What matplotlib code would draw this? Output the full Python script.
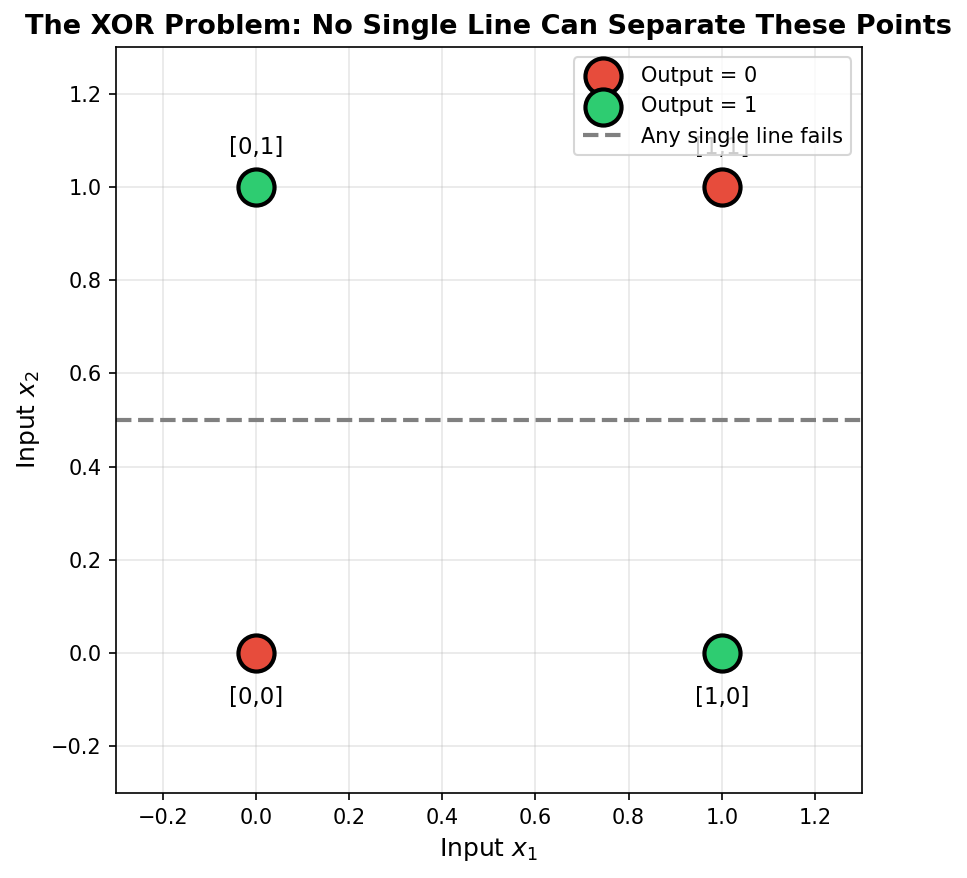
import matplotlib
matplotlib.use("Agg")
import matplotlib.pyplot as plt

# XOR data
x1 = [0, 0, 1, 1]
x2 = [0, 1, 0, 1]
outputs = [0, 1, 1, 0]
point_labels = ["[0,0]", "[0,1]", "[1,0]", "[1,1]"]
label_offsets = [-0.095, 0.085, -0.095, 0.085]

colors = {0: "#e74c3c", 1: "#2ecc71"}

fig = plt.figure(figsize=(967 / 150, 878 / 150), dpi=150)
ax = fig.add_axes([0.120, 0.0968, 0.771, 0.8497])

for out in (0, 1):
    xs = [a for a, o in zip(x1, outputs) if o == out]
    ys = [b for b, o in zip(x2, outputs) if o == out]
    ax.scatter(xs, ys, s=300, c=colors[out], edgecolors="black",
               linewidths=2, zorder=3, label=f"Output = {out}")

for a, b, lab, off in zip(x1, x2, point_labels, label_offsets):
    ax.text(a, b + off, lab, ha="center", va="center", fontsize=11)

ax.axhline(0.5, color="gray", linestyle="--", linewidth=2,
           label="Any single line fails")

ax.set_xlim(-0.3, 1.3)
ax.set_ylim(-0.3, 1.3)
ax.set_xlabel("Input $x_1$", fontsize=12)
ax.set_ylabel("Input $x_2$", fontsize=12)
ax.set_title("The XOR Problem: No Single Line Can Separate These Points",
             fontsize=13, fontweight="bold")
ax.grid(True, alpha=0.3)
ax.legend(loc="upper right", fontsize=10)

fig.savefig("out.png", dpi=150)
